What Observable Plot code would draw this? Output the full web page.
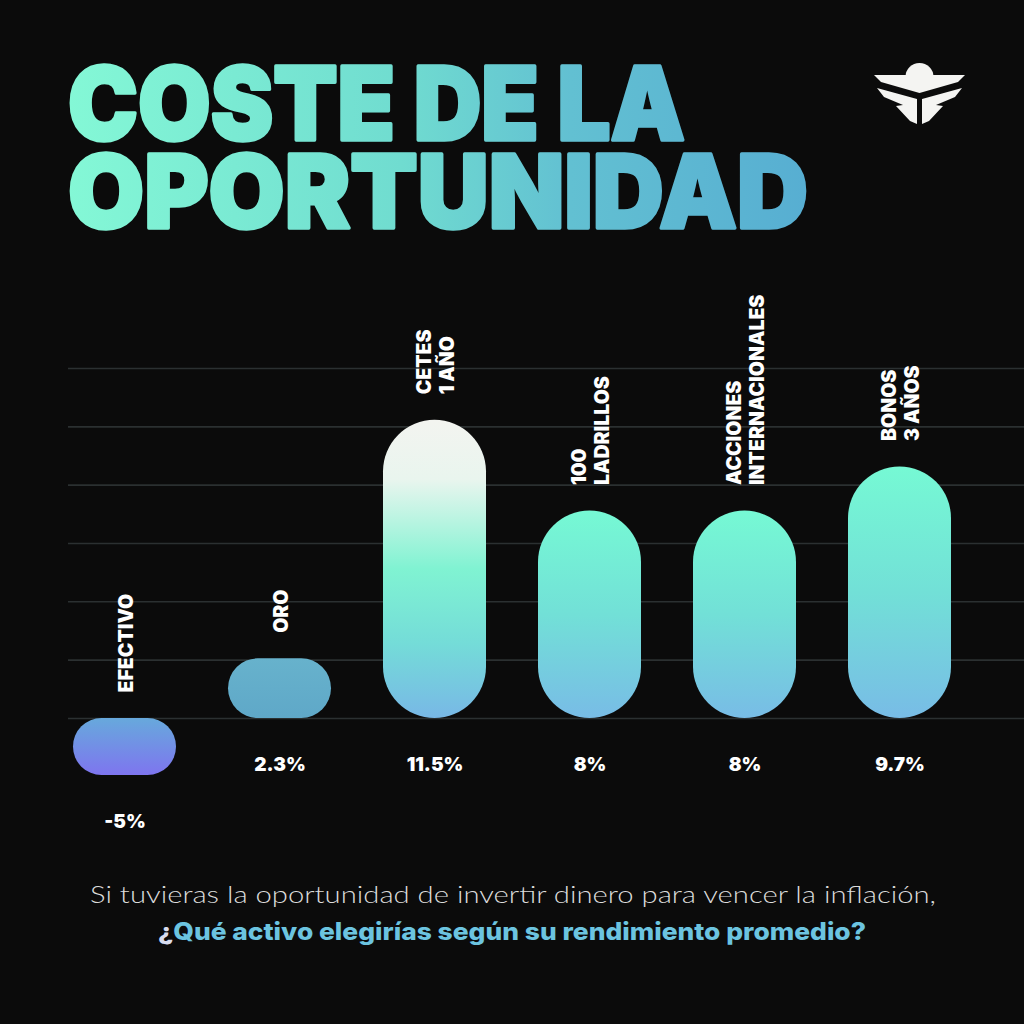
<!DOCTYPE html>
<html>
<head>
<meta charset="utf-8">
<script src="https://cdn.jsdelivr.net/npm/d3@7"></script>
<script src="https://cdn.jsdelivr.net/npm/@observablehq/plot@0.6"></script>
<style>
  html, body { margin: 0; padding: 0; background: #0b0b0b; }
  #page { position: relative; width: 1024px; height: 1024px; overflow: hidden; background: #0b0b0b; }
  #title, #caption, #chart { position: absolute; left: 0; }
  #title { top: 0; }
  #chart { top: 280px; }
  #caption { top: 860px; }
</style>
</head>
<body>
<div id="page">
  <svg width="0" height="0" style="position:absolute">
    <defs>
      <linearGradient id="gEfectivo" x1="0" y1="0" x2="0" y2="1">
        <stop offset="0" stop-color="#67a9dc"/>
        <stop offset="1" stop-color="#7e75ef"/>
      </linearGradient>
      <linearGradient id="gOro" x1="0" y1="0" x2="0" y2="1">
        <stop offset="0" stop-color="#67b2cc"/>
        <stop offset="1" stop-color="#5fa8c8"/>
      </linearGradient>
      <linearGradient id="gCetes" x1="0" y1="0" x2="0" y2="1">
        <stop offset="0" stop-color="#f3f4f0"/>
        <stop offset="0.2" stop-color="#e9f5ee"/>
        <stop offset="0.5" stop-color="#80f3d2"/>
        <stop offset="0.75" stop-color="#74dcd8"/>
        <stop offset="1" stop-color="#78b8e6"/>
      </linearGradient>
      <linearGradient id="gMint" x1="0" y1="0" x2="0" y2="1">
        <stop offset="0" stop-color="#76f9d4"/>
        <stop offset="0.5" stop-color="#72e0d7"/>
        <stop offset="1" stop-color="#78bce6"/>
      </linearGradient>
      <linearGradient id="titleGrad" gradientUnits="userSpaceOnUse" x1="68" y1="0" x2="808" y2="0">
        <stop offset="0" stop-color="#84f8d6"/>
        <stop offset="0.45" stop-color="#70dcd0"/>
        <stop offset="0.68" stop-color="#62c0d2"/>
        <stop offset="1" stop-color="#57aed2"/>
      </linearGradient>
    </defs>
  </svg>

  <svg id="title" width="1024" height="260">
    <text font-family="Inter, Lato, sans-serif" font-weight="900" font-size="102"
          fill="url(#titleGrad)" stroke="url(#titleGrad)" stroke-width="3.5" stroke-linejoin="round"><tspan x="68" y="140" textLength="617" lengthAdjust="spacingAndGlyphs">COSTE DE LA</tspan><tspan x="68" y="228" textLength="740" lengthAdjust="spacingAndGlyphs">OPORTUNIDAD</tspan></text>
    <g fill="#f4f4f2">
      <circle cx="919.5" cy="77" r="14"/>
      <polygon points="874,75 965,75 958,82 919.5,93 881,82"/>
      <polygon points="877,88 917,99 917,124 910,121 896,106 903,105 884,97"/>
      <polygon points="962,88 922,99 922,124 929,121 943,106 936,105 955,97"/>
    </g>
  </svg>

  <div id="chart"></div>

  <svg id="caption" width="1024" height="100">
    <text x="513" y="43" text-anchor="middle" font-family="Lato, 'Open Sans', sans-serif" font-weight="300"
          font-size="24" textLength="846" lengthAdjust="spacingAndGlyphs" fill="#dcdcdc">Si tuvieras la oportunidad de invertir dinero para vencer la inflación,</text>
    <text x="512" y="80" text-anchor="middle" font-family="Inter, Lato, sans-serif" font-weight="800"
          font-size="24" textLength="708" lengthAdjust="spacingAndGlyphs" fill="#6cc4e0"><tspan fill="#d8dcef">¿</tspan>Qué activo elegirías según su rendimiento promedio?</text>
  </svg>
</div>

<script>
// ---- data ----
const categories = ["EFECTIVO", "ORO", "CETES\n1 AÑO", "100\nLADRILLOS", "ACCIONES\nINTERNACIONALES", "BONOS\n3 AÑOS"];
const values = [-5, 2.3, 11.5, 8, 8, 9.7];
const valueLabels = ["-5%", "2.3%", "11.5%", "8%", "8%", "9.7%"];
const gradients = ["gEfectivo", "gOro", "gCetes", "gMint", "gMint", "gMint"];
const gridValues = [0, 2.25, 4.5, 6.75, 9, 11.25, 13.5];
const negativeSquash = 0.44; // the design draws negative values compressed

const data = categories.map((c, i) => ({cat: c, value: values[i], label: valueLabels[i], grad: gradients[i]}));

const font = "Inter, Lato, sans-serif";

const chart = Plot.plot({
  width: 1024,
  height: 580,
  marginLeft: 68,
  marginRight: 0,
  marginTop: 0,
  marginBottom: 0,
  style: {background: "transparent", color: "white", fontFamily: font, overflow: "visible"},
  x: {domain: categories, range: [71, 953], paddingInner: 0.336, paddingOuter: 0, axis: null},
  y: {
    transform: v => (v < 0 ? v * negativeSquash : v),
    domain: [-5 * negativeSquash, 13.5],
    range: [495, 88],
    axis: null
  },
  color: {type: "identity"},
  marks: [
    Plot.ruleY(gridValues, {stroke: "#2b3031", strokeWidth: 1.6}),
    Plot.barY(data, {x: "cat", y: "value", fill: d => `url(#${d.grad})`}),
    Plot.text(data, {
      x: "cat", y: d => Math.max(0, d.value), text: "cat",
      rotate: -90, textAnchor: "start", lineAnchor: "middle", lineHeight: 1.2,
      dy: -26, fill: "white", fontSize: 19.5, fontWeight: 900, fontFamily: font
    }),
    Plot.text(data, {
      x: "cat", y: d => Math.min(0, d.value), text: "label",
      dy: 46, fill: "white", fontSize: 19, fontWeight: 900, fontFamily: font
    })
  ]
});

chart.querySelectorAll('g[aria-label="bar"] rect').forEach(r => {
  const w = +r.getAttribute("width"), h = +r.getAttribute("height");
  const rr = Math.min(w, h) / 2;
  r.setAttribute("rx", rr);
  r.setAttribute("ry", rr);
});

document.getElementById("chart").appendChild(chart);
</script>
</body>
</html>
